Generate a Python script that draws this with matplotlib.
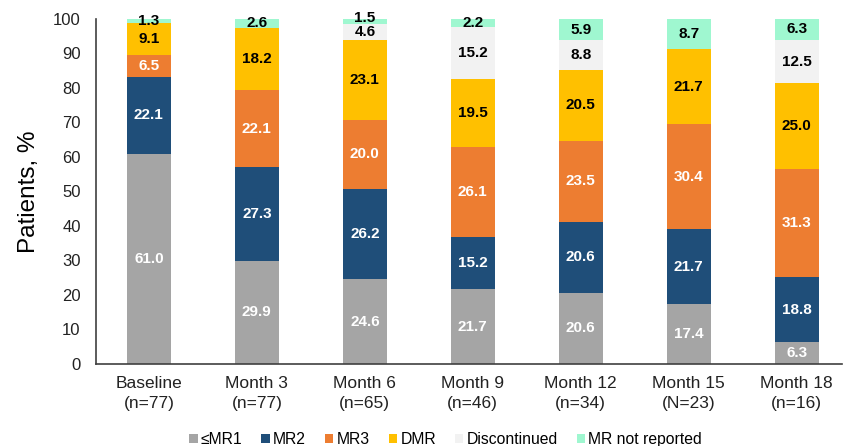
import matplotlib
matplotlib.use("Agg")
import matplotlib.pyplot as plt
import numpy as np

plt.rcParams['font.family'] = ['Liberation Sans', 'DejaVu Sans']

categories = ["Baseline\n(n=77)", "Month 3\n(n=77)", "Month 6\n(n=65)", "Month 9\n(n=46)",
              "Month 12\n(n=34)", "Month 15\n(N=23)", "Month 18\n(n=16)"]
series_names = ["\u2264MR1", "MR2", "MR3", "DMR", "Discontinued", "MR not reported"]

le_mr1 = [61.0, 29.9, 24.6, 21.7, 20.6, 17.4, 6.3]
mr2 = [22.1, 27.3, 26.2, 15.2, 20.6, 21.7, 18.8]
mr3 = [6.5, 22.1, 20.0, 26.1, 23.5, 30.4, 31.3]
dmr = [9.1, 18.2, 23.1, 19.5, 20.5, 21.7, 25.0]
discontinued = [0.0, 0.0, 4.6, 15.2, 8.8, 0.0, 12.5]
not_reported = [1.3, 2.6, 1.5, 2.2, 5.9, 8.7, 6.3]

series = [le_mr1, mr2, mr3, dmr, discontinued, not_reported]
colors = ["#A5A5A5", "#1F4E79", "#ED7D31", "#FFC000", "#F2F2F2", "#9FF7D0"]
text_colors = ["white", "white", "white", "black", "black", "black"]

fig = plt.figure(figsize=(8.44, 4.46), dpi=100)
ax = fig.add_axes([0.1137, 0.1839, 0.884, 0.7735])

x = np.arange(len(categories))
bottom = np.zeros(len(categories))
prev = np.full(len(categories), 100.0)
handles = []
for name, vals, col, tcol in zip(series_names, series, colors, text_colors):
    vals = np.array(vals)
    bars = ax.bar(x, vals, width=0.41, bottom=bottom, color=col, label=name)
    handles.append(bars)
    for i, (xi, b, v) in enumerate(zip(x, bottom, vals)):
        if v > 0:
            y = b + v / 2
            # thin segment stacked on another thin one: lift its label a little
            if v < 2 and prev[i] < 6:
                y += 1.0
            ax.text(xi, y, f"{v:.1f}", ha="center", va="center",
                    color=tcol, fontsize=11, fontweight="bold")
            prev[i] = v
    bottom += vals

ax.set_xlim(-0.49, 6.42)
ax.set_ylim(0, 100)
ax.set_yticks(np.arange(0, 101, 10))
ax.set_xticks(x)
ax.set_xticklabels(categories, fontsize=12.5, color="#222222", linespacing=1.35)
ax.tick_params(axis="y", labelsize=12, length=0, pad=11, colors="#222222")
ax.tick_params(axis="x", length=0, pad=9)
for s in ["top", "right"]:
    ax.spines[s].set_visible(False)
for s in ["left", "bottom"]:
    ax.spines[s].set_color("#404040")
    ax.spines[s].set_linewidth(1.2)
ax.set_ylabel("Patients, %", fontsize=17.5, labelpad=9)

fig.legend(handles=handles, labels=series_names, loc="center", bbox_to_anchor=(0.528, 0.015),
           ncol=6, frameon=False, fontsize=11.3, handlelength=0.55, handleheight=0.55,
           handletextpad=0.2, columnspacing=1.2)

fig.savefig("out.png", dpi=100)
